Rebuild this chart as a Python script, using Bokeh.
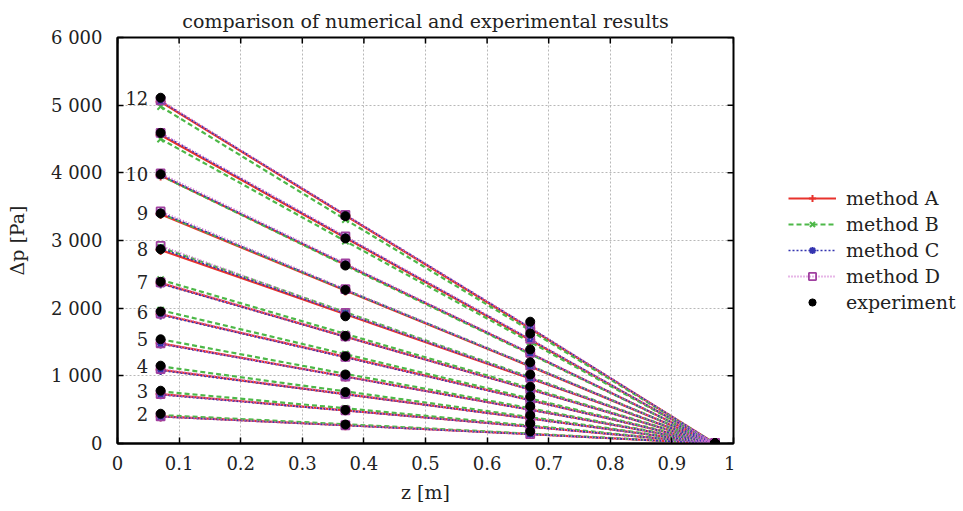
import math
from bokeh.plotting import figure
from bokeh.layouts import row
from bokeh.models import Legend, LegendItem, FixedTicker, ColumnDataSource
from bokeh.core.properties import value
from bokeh.embed import file_html
from bokeh.resources import INLINE

# ---------------- data ----------------
z = [0.07, 0.37, 0.67, 0.97]
curve_labels = ["12", "", "10", "9", "8", "7", "6", "5", "4", "3", "2"]

method_a = [
    [5050, 3370, 1700, 0],
    [4560, 3040, 1530, 0],
    [3960, 2640, 1330, 0],
    [3390, 2260, 1140, 0],
    [2860, 1910, 960, 0],
    [2370, 1580, 800, 0],
    [1910, 1280, 640, 0],
    [1480, 990, 500, 0],
    [1090, 730, 370, 0],
    [730, 490, 250, 0],
    [400, 270, 140, 0],
]
method_b = [
    [4980, 3310, 1670, 0],
    [4500, 2990, 1500, 0],
    [3960, 2630, 1320, 0],
    [3400, 2270, 1150, 0],
    [2900, 1940, 980, 0],
    [2420, 1620, 820, 0],
    [1970, 1320, 665, 0],
    [1540, 1030, 520, 0],
    [1140, 770, 390, 0],
    [770, 520, 265, 0],
    [420, 285, 145, 0],
]
method_c = [
    [5060, 3380, 1710, 0],
    [4580, 3050, 1540, 0],
    [3970, 2650, 1335, 0],
    [3410, 2270, 1145, 0],
    [2880, 1920, 965, 0],
    [2360, 1575, 795, 0],
    [1900, 1270, 635, 0],
    [1470, 985, 495, 0],
    [1080, 725, 365, 0],
    [720, 485, 245, 0],
    [395, 265, 135, 0],
]
method_d = [
    [5070, 3380, 1715, 0],
    [4590, 3060, 1545, 0],
    [3990, 2660, 1340, 0],
    [3430, 2280, 1150, 0],
    [2920, 1930, 970, 0],
    [2380, 1585, 800, 0],
    [1920, 1280, 640, 0],
    [1480, 990, 500, 0],
    [1100, 735, 370, 0],
    [730, 490, 248, 0],
    [400, 270, 138, 0],
]
experiment = [
    [5110, 3360, 1800, 0],
    [4590, 3030, 1625, 0],
    [3980, 2630, 1390, 0],
    [3400, 2270, 1200, 0],
    [2870, 1880, 1020, 0],
    [2390, 1590, 840, 0],
    [1950, 1290, 695, 0],
    [1540, 1020, 550, 0],
    [1150, 760, 415, 0],
    [780, 495, 295, 0],
    [440, 280, 178, 0],
]

x_ticks = [0, 0.1, 0.2, 0.3, 0.4, 0.5, 0.6, 0.7, 0.8, 0.9, 1]
x_tick_labels = ["0", "0.1", "0.2", "0.3", "0.4", "0.5", "0.6", "0.7", "0.8", "0.9", "1"]
y_ticks = [0, 1000, 2000, 3000, 4000, 5000, 6000]
y_tick_labels = ["0", "1 000", "2 000", "3 000", "4 000", "5 000", "6 000"]

FONT = "DejaVu Serif"
TXT = "#222222"

# ---------------- main figure ----------------
p = figure(width=735, height=511, x_range=(0, 1), y_range=(0, 6000),
           output_backend="svg", toolbar_location=None,
           title="comparison of numerical and experimental results",
           min_border_left=117, min_border_right=2,
           min_border_top=37, min_border_bottom=68)

p.title.text_font = FONT
p.title.text_font_size = "19px"
p.title.text_font_style = "normal"
p.title.text_color = TXT
p.title.align = "center"
p.title.offset = 0
p.title.standoff = 12

p.outline_line_color = "black"
p.outline_line_width = 2
p.background_fill_color = "white"
p.border_fill_color = "white"

for ax, ticks, labels in ((p.xaxis[0], x_ticks, x_tick_labels), (p.yaxis[0], y_ticks, y_tick_labels)):
    ax.ticker = FixedTicker(ticks=ticks)
    ax.major_label_overrides = {t: l for t, l in zip(ticks, labels)}
    ax.major_label_text_font = FONT
    ax.major_label_text_font_size = "18px"
    ax.major_label_text_color = TXT
    ax.axis_label_text_font = FONT
    ax.axis_label_text_font_size = "19px"
    ax.axis_label_text_font_style = "normal"
    ax.axis_label_text_color = TXT
    ax.axis_line_color = "black"
    ax.axis_line_width = 2
    ax.major_tick_in = 6
    ax.major_tick_out = 0
    ax.major_tick_line_width = 1.5
    ax.minor_tick_line_color = None

p.xaxis.major_label_standoff = 12
p.yaxis.major_label_standoff = 15
p.xaxis.axis_label = "z [m]"
p.yaxis.axis_label = "Δp [Pa]"
p.xaxis.axis_label_standoff = 8
p.yaxis.axis_label_standoff = 20

for g in (p.xgrid[0], p.ygrid[0]):
    g.grid_line_color = "#b8b8b8"
    g.grid_line_dash = "2 2"
    g.grid_line_width = 1
p.xgrid.ticker = FixedTicker(ticks=x_ticks)
p.ygrid.ticker = FixedTicker(ticks=y_ticks)

# tick marks on the top and right edges of the frame (half of each dash is clipped)
p.scatter(x=x_ticks, y=[y_ticks[-1]] * len(x_ticks), marker="dash", angle=math.pi / 2,
          size=12, line_color="black", line_width=1.5)
p.scatter(x=[x_ticks[-1]] * len(y_ticks), y=y_ticks, marker="dash",
          size=12, line_color="black", line_width=1.5)

# ---------------- series ----------------
def flat(vals):
    xs, ys = [], []
    for r in vals:
        xs.extend(z)
        ys.extend(r)
    return xs, ys

styles = [
    ("method A", method_a, "#e8322c", "solid", 2.2, "cross", 10, "#e8322c"),
    ("method B", method_b, "#4db848", "5 3", 2.2, "x", 9, "#4db848"),
    ("method C", method_c, "#3434b0", "2 2", 1.6, "asterisk", 9, "#3434b0"),
    ("method D", method_d, "#d070d0", "1 2", 2.0, "square", 8, "#a040a0"),
]

# legend lives in its own narrow figure on the right; its proxy renderers
# hold one point placed outside that figure's visible range
lf = figure(width=228, height=511, x_range=(0, 1), y_range=(0, 1),
            output_backend="svg", toolbar_location=None,
            x_axis_type=None, y_axis_type=None,
            min_border=0, outline_line_color=None)
lf.grid.visible = False
lf.background_fill_color = "white"
lf.border_fill_color = "white"
hx, hy = [-5, -4], [-5, -5]

items = []
for name, vals, color, dash, lw, marker, msize, mcolor in styles:
    p.multi_line(xs=[list(z) for _ in vals], ys=[list(r) for r in vals],
                 line_color=color, line_dash=dash, line_width=lw)
    fx, fy = flat(vals)
    mk = dict(marker=marker, size=msize, line_color=mcolor)
    if marker == "square":
        mk.update(fill_color=None, line_width=1.8)
    else:
        mk.update(line_width=2)
    p.scatter(fx, fy, **mk)
    lml = lf.line(hx, hy, line_color=color, line_dash=dash, line_width=lw)
    lsc = lf.scatter(hx[:1], hy[:1], **mk)
    items.append(LegendItem(label=name, renderers=[lml, lsc]))

ex, ey = flat(experiment)
p.scatter(ex, ey, marker="circle", size=9, fill_color="black", line_color="black")
lex = lf.scatter(hx[:1], hy[:1], marker="circle", size=9, fill_color="black", line_color="black")
items.append(LegendItem(label="experiment", renderers=[lex]))

# curve labels
lab_src = ColumnDataSource(dict(x=[0.05] * len(curve_labels),
                                y=[r[0] for r in experiment],
                                t=curve_labels))
p.text(x="x", y="y", text="t", source=lab_src, text_align="right",
       text_baseline="middle", text_font=value(FONT), text_font_size="18px",
       text_color=TXT)

legend = Legend(items=items, location=(53, 130), border_line_color=None,
                background_fill_alpha=0, label_text_font=FONT,
                label_text_font_size="19px", label_text_color=TXT,
                glyph_width=48, glyph_height=18, label_height=20,
                spacing=4, label_standoff=10, margin=0, padding=0)
lf.add_layout(legend)

layout = row(p, lf)
open("out.html", "w").write(file_html(layout, INLINE))
